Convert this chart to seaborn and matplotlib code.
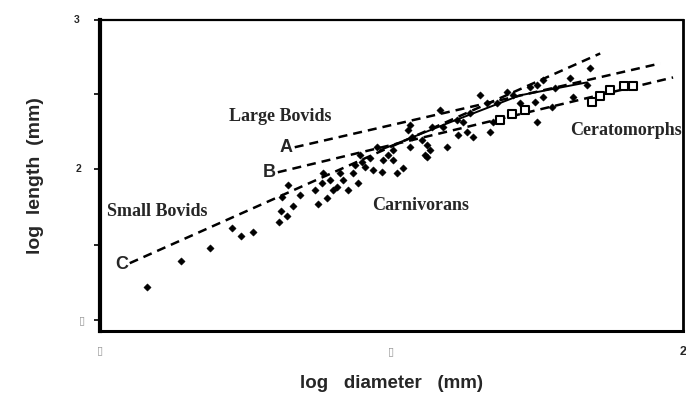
import numpy as np
import pandas as pd
import matplotlib
matplotlib.use("Agg")
import matplotlib.pyplot as plt
import seaborn as sns

# =============================
# Data (log diameter, log length)
# =============================
dot_x = [1.081, 1.139, 1.189, 1.226, 1.242, 1.262, 1.307, 1.312, 1.310, 1.321,
         1.322, 1.343, 1.331, 1.374, 1.389, 1.369, 1.381, 1.383, 1.395, 1.400,
         1.407, 1.412, 1.417, 1.425, 1.443, 1.434, 1.437, 1.449, 1.455, 1.446,
         1.463, 1.468, 1.484, 1.485, 1.494, 1.503, 1.509, 1.520, 1.475, 1.532,
         1.535, 1.552, 1.561, 1.557, 1.569, 1.583, 1.595, 1.614, 1.612, 1.503,
         1.532, 1.528, 1.566, 1.588, 1.623, 1.630, 1.640, 1.635, 1.652, 1.669,
         1.664, 1.674, 1.681, 1.698, 1.708, 1.750, 1.750, 1.780, 1.561, 1.840,
         1.811, 1.835, 1.806, 1.760, 1.738, 1.746, 1.775, 1.720, 1.760]
dot_y = [1.219, 1.391, 1.477, 1.609, 1.556, 1.583, 1.649, 1.815, 1.722, 1.689,
         1.894, 1.828, 1.755, 1.768, 1.808, 1.861, 1.907, 1.974, 1.927, 1.861,
         1.881, 1.974, 1.927, 1.861, 1.907, 1.974, 2.026, 2.046, 2.013, 2.093,
         2.073, 1.993, 1.980, 2.060, 2.093, 2.126, 1.974, 2.007, 2.146, 2.291,
         2.212, 2.192, 2.159, 2.093, 2.278, 2.391, 2.146, 2.225, 2.325, 2.060,
         2.146, 2.258, 2.126, 2.278, 2.311, 2.245, 2.212, 2.371, 2.490, 2.245,
         2.437, 2.311, 2.437, 2.510, 2.490, 2.311, 2.556, 2.536, 2.079, 2.669,
         2.477, 2.556, 2.603, 2.589, 2.543, 2.444, 2.411, 2.437, 2.477]

# Ceratomorphs (open squares)
cerato_x = [1.686, 1.707, 1.729, 1.844, 1.858, 1.875, 1.899, 1.914]
cerato_y = [2.325, 2.364, 2.391, 2.444, 2.483, 2.523, 2.550, 2.550]

# regression lines
line_a_x = [1.334, 1.961]
line_a_y = [2.146, 2.702]
line_b_x = [1.305, 1.983]
line_b_y = [1.980, 2.609]
line_c_x = [1.051, 1.858]
line_c_y = [1.377, 2.768]
solid_x = [1.480, 1.600, 1.720, 1.835]
solid_y = [2.126, 2.311, 2.490, 2.576]

# =============================
# Plot
# =============================
sns.set_style("white")
plt.rcParams["font.family"] = ["Liberation Sans", "DejaVu Sans"]

fig = plt.figure(figsize=(6.86, 4.05), dpi=100)
ax = fig.add_axes([0.1458, 0.1827, 0.8498, 0.7679])

dash = (0, (3.6, 2.4))
for lx, ly in [(line_a_x, line_a_y), (line_b_x, line_b_y), (line_c_x, line_c_y)]:
    sns.lineplot(x=lx, y=ly, ax=ax, color="black", lw=1.8, linestyle=dash, sort=False)
sns.lineplot(x=solid_x, y=solid_y, ax=ax, color="black", lw=1.4, sort=False)

sns.scatterplot(x=dot_x, y=dot_y, ax=ax, marker="D", s=14, color="black",
                edgecolor="black", linewidth=0.3, zorder=3)
sns.scatterplot(x=cerato_x, y=cerato_y, ax=ax, marker="s", s=30, facecolor="white",
                edgecolor="black", linewidth=1.5, zorder=4)

ax.set_xlim(1.0, 2.0)
ax.set_ylim(0.927, 2.99)

# spines
for side, w in [("left", 3.0), ("bottom", 2.2), ("top", 1.6), ("right", 2.0)]:
    ax.spines[side].set_visible(True)
    ax.spines[side].set_linewidth(w)
    ax.spines[side].set_color("black")

# ticks
ax.set_yticks([1.0, 2.0, 2.99])
ax.set_yticks([1.5, 2.5], minor=True)
ax.set_yticklabels([])
ax.tick_params(axis="y", which="both", direction="out", length=4, width=1.2,
               left=True, color="black")
ax.set_xticks([1.0, 1.5, 2.0])
ax.set_xticklabels([])
ax.tick_params(axis="x", length=0)

ax.text(-0.035, 2.99, "3", transform=ax.get_yaxis_transform(), ha="right",
        va="center", fontsize=7.5, fontweight="bold")
ax.text(-0.032, 2.0, "2", transform=ax.get_yaxis_transform(), ha="right",
        va="center", fontsize=7.5, fontweight="bold")
ax.text(-0.025, 1.0, "\u25af", transform=ax.get_yaxis_transform(), ha="right",
        va="center", fontsize=8, color="#999999", family="DejaVu Sans")
ax.text(1.0, -0.062, "\u25af", transform=ax.get_xaxis_transform(), ha="center",
        va="center", fontsize=8, color="#999999", family="DejaVu Sans")
ax.text(1.5, -0.065, "\u25af", transform=ax.get_xaxis_transform(), ha="center",
        va="center", fontsize=8, color="#999999", family="DejaVu Sans")
ax.text(2.0, -0.068, "2", transform=ax.get_xaxis_transform(), ha="center",
        va="center", fontsize=9, fontweight="bold")

# labels
ax.set_xlabel("log   diameter   (mm)", fontsize=13.5, fontweight="bold", labelpad=28)
ax.set_ylabel("log  length  (mm)", fontsize=14, fontweight="bold", labelpad=33)

serif = ["Liberation Serif", "DejaVu Serif"]
ax.text(1.222, 2.35, "Large Bovids", fontsize=13, fontweight="bold", family=serif,
        ha="left", va="center")
ax.text(1.012, 1.722, "Small Bovids", fontsize=13, fontweight="bold", family=serif,
        ha="left", va="center")
ax.text(1.467, 1.762, "Carnivorans", fontsize=13, fontweight="bold", family=serif,
        ha="left", va="center")
ax.text(1.806, 2.258, "Ceratomorphs", fontsize=13, fontweight="bold", family=serif,
        ha="left", va="center")
ax.text(1.330, 2.146, "A", fontsize=13, fontweight="bold", ha="right", va="center")
ax.text(1.302, 1.980, "B", fontsize=13, fontweight="bold", ha="right", va="center")
ax.text(1.048, 1.370, "C", fontsize=13, fontweight="bold", ha="right", va="center")

fig.savefig("out.png", dpi=100)
